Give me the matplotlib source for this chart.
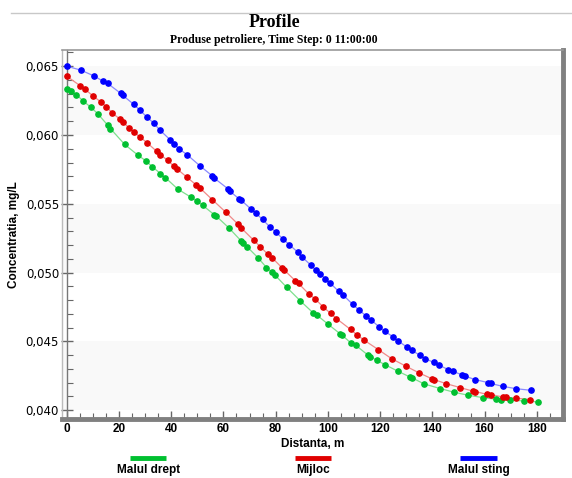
import matplotlib
matplotlib.use("Agg")
import matplotlib.pyplot as plt
from matplotlib.lines import Line2D
from matplotlib.ticker import MultipleLocator, FuncFormatter

# Malul sting (blue)
sting_x = [0, 5.4, 10.3, 13.7, 15.7, 20.7, 21.5, 25.7, 28.0, 30.9, 33.4, 35.7, 39.5, 41.1, 43.0, 46.0,
           51.2, 55.6, 56.4, 61.8, 62.5, 66.0, 66.9, 70.5, 72.4, 75.0, 77.8, 80.0, 83.0, 85.2, 88.5, 90.2,
           93.5, 95.4, 97.1, 99.0, 100.8, 104.1, 105.9, 109.5, 112.0, 114.6, 116.7, 119.7, 121.8, 125.0,
           126.9, 130.2, 132.1, 135.2, 137.2, 140.6, 142.6, 146.1, 147.8, 151.2, 152.5, 156.3, 161.4,
           162.3, 166.9, 172.0, 177.7]
sting_y = [.0650, .06471, .06430, .06393, .06374, .06302, .06287, .06222, .06180, .06127, .06084, .06035,
           .05967, .05938, .05899, .05858, .05773, .05705, .05688, .05608, .05591, .05536, .05524, .05463,
           .05432, .05386, .05332, .05296, .05241, .05204, .05148, .05112, .05054, .05017, .04990, .04957,
           .04925, .04865, .04836, .04770, .04727, .04686, .04654, .04605, .04574, .04533, .04504, .04460,
           .04436, .04400, .04376, .04347, .04327, .04296, .04283, .04259, .04249, .04223, .04201, .04195,
           .04174, .04157, .04145]

# Mijloc (red)
mijloc_x = [0, 5.2, 6.9, 10.2, 13.3, 15.2, 17.4, 20.4, 21.6, 23.8, 25.6, 28.0, 30.8, 34.4, 35.7, 38.6,
            40.9, 42.1, 45.9, 49.4, 51.0, 55.7, 60.9, 65.6, 66.9, 71.6, 74.2, 77.0, 78.7, 82.5, 83.1, 87.6,
            88.8, 92.8, 95.1, 98.2, 101.1, 103.3, 108.7, 111.0, 113.9, 119.3, 124.4, 129.9, 135.0, 139.7,
            140.8, 145.2, 150.6, 155.4, 156.5, 160.8, 162.3, 166.9, 168.2, 172.0, 177.4]
mijloc_y = [.06427, .06357, .06333, .06282, .06236, .06204, .06160, .06115, .06093, .06052, .06023, .05986,
            .05943, .05882, .05858, .05817, .05775, .05756, .05695, .05640, .05615, .05531, .05439, .05352,
            .05323, .05235, .05187, .05134, .05107, .05034, .05022, .04940, .04921, .04843, .04809, .04751,
            .04703, .04666, .04587, .04550, .04509, .04441, .04375, .04320, .04271, .04230, .04222, .04194,
            .04165, .04140, .04136, .04116, .04114, .04097, .04094, .04088, .04078]

# Malul drept (green)
drept_x = [0, 1.8, 3.7, 6.2, 9.2, 11.8, 15.7, 16.7, 22.2, 27.3, 30.3, 32.8, 35.9, 37.7, 42.6, 47.4, 49.8,
           52.0, 56.4, 57.3, 62.2, 66.9, 67.6, 69.1, 73.3, 76.5, 78.5, 79.8, 84.3, 89.5, 94.4, 95.7, 100.1,
           104.6, 105.5, 108.8, 110.7, 115.4, 116.3, 118.7, 121.8, 126.9, 131.4, 132.3, 136.9, 143.0, 148.3,
           153.8, 159.3, 164.4, 166.2, 169.7, 175.1, 180.3]
drept_y = [.06331, .06318, .06294, .06248, .06202, .06156, .06071, .06047, .05931, .05853, .05812, .05768,
           .05720, .05691, .05606, .05550, .05521, .05490, .05422, .05410, .05323, .05228, .05218, .05187,
           .05107, .05037, .05003, .04981, .04892, .04794, .04707, .04693, .04625, .04557, .04545, .04489,
           .04472, .04400, .04390, .04363, .04332, .04283, .04242, .04235, .04191, .04158, .04131, .04109,
           .04092, .04080, .04078, .04073, .04068, .04061]

series = [
    ("Malul drept", drept_x, drept_y, "#00c030", "#7ee08e"),
    ("Mijloc", mijloc_x, mijloc_y, "#e00000", "#f08a8a"),
    ("Malul sting", sting_x, sting_y, "#0000ff", "#8a8aff"),
]

fig = plt.figure(figsize=(5.72, 4.78), dpi=100)
ax = fig.add_axes([0.108, 0.123, 0.876, 0.772])

# light bands
for lo in [0.040, 0.050, 0.060]:
    ax.axhspan(lo, lo + 0.005, color="#f9f9f9", zorder=0, lw=0)

for name, xs, ys, c, lc in series:
    ax.plot(xs, ys, color=lc, lw=0.9, zorder=2)
    ax.plot(xs, ys, ls="none", marker="o", ms=3.8, mfc=c, mec=c, zorder=3)

ax.set_xlim(-1.9, 190)
ax.set_ylim(0.03935, 0.06616)

ax.xaxis.set_major_locator(MultipleLocator(20))
ax.xaxis.set_minor_locator(MultipleLocator(5))
ax.yaxis.set_major_locator(MultipleLocator(0.005))
ax.yaxis.set_minor_locator(MultipleLocator(0.001))
ax.yaxis.set_major_formatter(FuncFormatter(lambda v, p: f"{v:.3f}".replace(".", ",")))

for lab in ax.get_xticklabels() + ax.get_yticklabels():
    lab.set_fontweight("bold")
    lab.set_family("Liberation Sans")
ax.tick_params(axis="x", which="major", direction="in", length=6, width=1, color="#666666",
               labelsize=8.5, pad=3)
ax.tick_params(axis="x", which="minor", direction="in", length=4, width=0.8, color="#666666")
ax.tick_params(axis="y", which="major", direction="inout", length=9, width=1, color="#666666",
               labelsize=8.5, pad=1)
ax.tick_params(axis="y", which="minor", direction="in", length=4, width=0.8, color="#666666")

ax.spines["left"].set_position(("data", 0))
ax.spines["left"].set_color("#777777")
ax.spines["left"].set_linewidth(1)
ax.spines["top"].set_color("#999999")
ax.spines["top"].set_linewidth(1.2)
ax.spines["right"].set_color("#808080")
ax.spines["right"].set_linewidth(3.5)
ax.spines["bottom"].set_color("#808080")
ax.spines["bottom"].set_linewidth(3.5)

# outer frame line on the left edge
ax.plot([0, 0], [0, 1], transform=ax.transAxes, color="#bbbbbb", lw=1, clip_on=False)

ax.set_xlabel("Distanta, m", fontsize=8.5, fontweight="bold", family="Liberation Sans", labelpad=2)
ax.set_ylabel("Concentratia, mg/L", fontsize=8.5, fontweight="bold", family="Liberation Sans", labelpad=4)

fig.text(0.479, 0.952, "Profile", ha="center", va="center", fontsize=13, fontweight="bold",
         family="Liberation Serif")
fig.text(0.478, 0.916, "Produse petroliere, Time Step: 0 11:00:00", ha="center", va="center",
         fontsize=8.5, fontweight="bold", family="Liberation Serif")

# thin toolbar line at the very top
fig.add_artist(Line2D([0.02, 1.0], [0.973, 0.973], color="#c8c8c8", lw=1))

# legend below the axes
legend_x = [0.259, 0.547, 0.837]
for (name, xs, ys, c, lc), cx in zip(series, legend_x):
    fig.add_artist(Line2D([cx - 0.032, cx + 0.032], [0.042, 0.042], color=c, lw=3.5,
                          solid_capstyle="butt"))
    fig.text(cx, 0.016, name, ha="center", va="center", fontsize=8.5, fontweight="bold",
             family="Liberation Sans")

fig.savefig("out.png", dpi=100)
